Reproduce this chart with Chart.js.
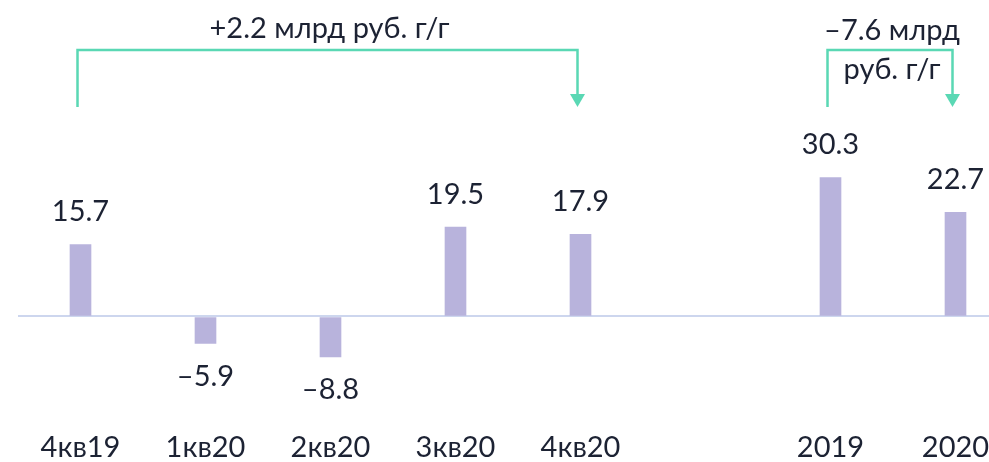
<!DOCTYPE html>
<html>
<head>
<meta charset="utf-8">
<script src="https://cdn.jsdelivr.net/npm/chart.js@4"></script>
<style>
  html, body { margin: 0; padding: 0; background: #fff; overflow: hidden; }
  #wrap { width: 989px; height: 462px; overflow: hidden; }
</style>
</head>
<body>
<div id="wrap"><canvas id="myChart1" width="1018" height="462"></canvas></div>
<script>
var periods = ['4кв19', '1кв20', '2кв20', '3кв20', '4кв20', '', '2019', '2020'];
var values = [15.7, -5.9, -8.8, 19.5, 17.9, null, 30.3, 22.7];
// the two brackets on top: [from index, to index, text lines]
var bracketA = [0, 4, ['+2.2 млрд руб. г/г']];
var bracketB = [6, 7, ['–7.6 млрд', 'руб. г/г']];

var FONT = 'Lato, "DejaVu Sans", sans-serif';
var INK = '#1c2233';
var TEAL = '#5ad8b4';

function fmt(v) {
  return v < 0 ? '–' + Math.abs(v).toFixed(1) : v.toFixed(1);
}

// value labels above / below bars
var valueLabels = {
  id: 'valueLabels',
  afterDatasetsDraw: function (chart) {
    var ctx = chart.ctx;
    var meta = chart.getDatasetMeta(0);
    ctx.save();
    ctx.font = '29px ' + FONT;
    ctx.fillStyle = INK;
    ctx.textAlign = 'center';
    ctx.textBaseline = 'alphabetic';
    meta.data.forEach(function (bar, i) {
      var v = values[i];
      if (v === null) return;
      if (v >= 0) {
        ctx.fillText(fmt(v), bar.x, bar.y - 23);
      } else {
        ctx.fillText(fmt(v), bar.x, bar.y + 42);
      }
    });
    ctx.restore();
  }
};

function drawBracket(chart, br, twoLine) {
  var ctx = chart.ctx;
  var x = chart.scales.x;
  var x1 = x.getPixelForValue(br[0]) - 3;
  var x2 = x.getPixelForValue(br[1]) - 3;
  var top = 50, bottom = 107;
  ctx.save();
  ctx.strokeStyle = TEAL;
  ctx.fillStyle = TEAL;
  ctx.lineWidth = 2.5;
  ctx.beginPath();
  ctx.moveTo(x1, bottom);
  ctx.lineTo(x1, top);
  ctx.lineTo(x2, top);
  ctx.lineTo(x2, bottom - 6);
  ctx.stroke();
  ctx.beginPath();
  ctx.moveTo(x2 - 7.5, bottom - 13);
  ctx.lineTo(x2 + 7.5, bottom - 13);
  ctx.lineTo(x2, bottom);
  ctx.closePath();
  ctx.fill();

  ctx.font = '29px ' + FONT;
  ctx.fillStyle = INK;
  ctx.textAlign = 'center';
  ctx.textBaseline = 'alphabetic';
  var cx = (x1 + x2) / 2 + 2;
  if (twoLine) {
    ctx.fillText(br[2][0], cx, 40);
    ctx.fillText(br[2][1], cx, 79);
  } else {
    ctx.fillText(br[2][0], cx, 38);
  }
  ctx.restore();
}

var brackets = {
  id: 'brackets',
  afterDraw: function (chart) {
    drawBracket(chart, bracketA, false);
    drawBracket(chart, bracketB, true);
  }
};

var ctx = document.getElementById('myChart1');
var myChart = new Chart(ctx, {
  type: 'bar',
  data: {
    labels: periods,
    datasets: [
      {
        data: values,
        backgroundColor: '#b8b3dc',
        borderWidth: 0,
        barThickness: 21
      }
    ]
  },
  options: {
    responsive: false,
    animation: false,
    devicePixelRatio: 1,
    layout: { padding: { left: 18, right: 0, top: 133, bottom: -25 } },
    plugins: {
      legend: { display: false },
      tooltip: { enabled: false }
    },
    scales: {
      x: {
        offset: true,
        grid: { display: false, drawTicks: false, tickLength: 0 },
        border: { display: false },
        ticks: {
          color: INK,
          font: { family: FONT, size: 29 },
          padding: 22,
          autoSkip: false,
          maxRotation: 0
        }
      },
      y: {
        min: -20,
        max: 40,
        grid: {
          drawTicks: false,
          tickLength: 0,
          lineWidth: 2,
          color: function (c) { return c.tick && c.tick.value === 0 ? '#cdd6ee' : 'rgba(0,0,0,0)'; }
        },
        border: { display: false },
        ticks: { display: false, stepSize: 10 }
      }
    }
  },
  plugins: [valueLabels, brackets]
});
</script>
</body>
</html>
